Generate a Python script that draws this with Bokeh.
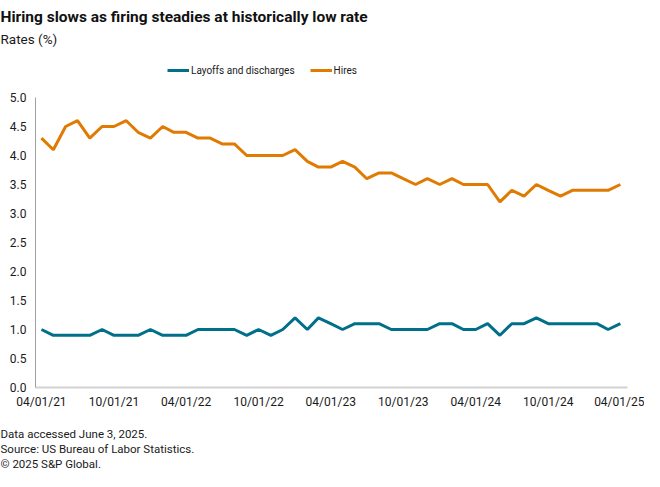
import pandas as pd
from bokeh.plotting import figure
from bokeh.layouts import column
from bokeh.models import (ColumnDataSource, Legend, LegendItem, FixedTicker, Label,
                          DatetimeTickFormatter, NumeralTickFormatter, Range1d)
from bokeh.embed import file_html
from bokeh.resources import INLINE

months = pd.date_range("2021-04-01", "2025-04-01", freq="MS")

hires = [4.3, 4.1, 4.5, 4.6, 4.3, 4.5, 4.5, 4.6, 4.4, 4.3, 4.5, 4.4, 4.4,
         4.3, 4.3, 4.2, 4.2, 4.0, 4.0, 4.0, 4.0, 4.1, 3.9, 3.8, 3.8,
         3.9, 3.8, 3.6, 3.7, 3.7, 3.6, 3.5, 3.6, 3.5, 3.6, 3.5, 3.5,
         3.5, 3.2, 3.4, 3.3, 3.5, 3.4, 3.3, 3.4, 3.4, 3.4, 3.4, 3.5]

layoffs = [1.0, 0.9, 0.9, 0.9, 0.9, 1.0, 0.9, 0.9, 0.9, 1.0, 0.9, 0.9, 0.9,
           1.0, 1.0, 1.0, 1.0, 0.9, 1.0, 0.9, 1.0, 1.2, 1.0, 1.2, 1.1,
           1.0, 1.1, 1.1, 1.1, 1.0, 1.0, 1.0, 1.0, 1.1, 1.1, 1.0, 1.0,
           1.1, 0.9, 1.1, 1.1, 1.2, 1.1, 1.1, 1.1, 1.1, 1.1, 1.0, 1.1]

series_names = ["Layoffs and discharges", "Hires"]

tick_dates = ["2021-04-01", "2021-10-01", "2022-04-01", "2022-10-01", "2023-04-01",
              "2023-10-01", "2024-04-01", "2024-10-01", "2025-04-01"]
y_ticks = [0.0, 0.5, 1.0, 1.5, 2.0, 2.5, 3.0, 3.5, 4.0, 4.5, 5.0]

title_text = "Hiring slows as firing steadies at historically low rate"
subtitle_text = "Rates (%)"
footer_lines = ["Data accessed June 3, 2025.",
                "Source: US Bureau of Labor Statistics.",
                "\u00a9 2025 S&P Global."]

HIRES_COLOR = "#E07A00"
LAYOFF_COLOR = "#00708A"
FONT = "Roboto"
TEXT_COLOR = "#1a1a1a"
W = 644
HEAD_H, MAIN_H, FOOT_H = 87, 325, 59


def blank(h):
    f = figure(width=W, height=h, output_backend="svg", toolbar_location=None,
               x_range=Range1d(0, W), y_range=Range1d(0, h),
               x_axis_location=None, y_axis_location=None,
               min_border=0, min_border_left=0, min_border_right=0,
               min_border_top=0, min_border_bottom=0, frame_align=False)
    f.title = None
    f.outline_line_color = None
    f.xgrid.visible = False
    f.ygrid.visible = False
    return f


# ---- header: title, subtitle, legend
head = blank(HEAD_H)
head.add_layout(Label(x=0, y=HEAD_H - 16, text=title_text, text_font=FONT,
                      text_font_style="bold", text_font_size="15.5px",
                      text_color="#111111", text_baseline="alphabetic"))
head.add_layout(Label(x=0, y=HEAD_H - 38, text=subtitle_text, text_font=FONT,
                      text_font_size="13.5px", text_color=TEXT_COLOR,
                      text_baseline="alphabetic"))
# legend keys (no visible data of their own)
d1 = head.line(x=[0], y=[float("nan")], line_color=LAYOFF_COLOR, line_width=3)
d2 = head.line(x=[0], y=[float("nan")], line_color=HIRES_COLOR, line_width=3)
legend = Legend(items=[LegendItem(label=series_names[0], renderers=[d1]),
                       LegendItem(label=series_names[1], renderers=[d2])],
                orientation="horizontal", location=(167, 9),
                padding=0, margin=0, spacing=15, label_standoff=2,
                glyph_width=22, glyph_height=16, label_height=16,
                border_line_color=None, background_fill_alpha=0,
                label_text_font=FONT, label_text_font_size="10px",
                label_text_color=TEXT_COLOR)
head.add_layout(legend, "center")

# ---- main chart
src = ColumnDataSource(dict(date=months, hires=hires, layoffs=layoffs))
p = figure(width=W, height=MAIN_H, output_backend="svg", toolbar_location=None,
           x_axis_type="datetime",
           x_range=Range1d(pd.Timestamp("2021-03-17"), pd.Timestamp("2025-04-19")),
           y_range=Range1d(0, 5), frame_align=False,
           min_border_left=35, min_border_right=17, min_border_top=10, min_border_bottom=25)
p.title = None
p.outline_line_color = None
p.xgrid.visible = False
p.ygrid.visible = False

p.line("date", "layoffs", source=src, line_color=LAYOFF_COLOR, line_width=3)
p.line("date", "hires", source=src, line_color=HIRES_COLOR, line_width=3)

tick_ms = [pd.Timestamp(d).value / 1e6 for d in tick_dates]
p.xaxis.ticker = FixedTicker(ticks=tick_ms)
fmt = "%m/%d/%y"
p.xaxis.formatter = DatetimeTickFormatter(days=fmt, months=fmt, years=fmt,
                                          hours=fmt, minutes=fmt, seconds=fmt)
p.yaxis.ticker = FixedTicker(ticks=y_ticks)
p.yaxis.formatter = NumeralTickFormatter(format="0.0")

for ax in (p.xaxis, p.yaxis):
    ax.major_tick_line_color = None
    ax.minor_tick_line_color = None
    ax.major_tick_out = 0
    ax.major_tick_in = 0
    ax.major_label_text_font = FONT
    ax.major_label_text_font_size = "12px"
    ax.major_label_text_color = TEXT_COLOR
p.yaxis.axis_line_color = "#a0a0a0"
p.yaxis.axis_line_width = 1
p.xaxis.axis_line_color = "#d2d2d2"
p.xaxis.axis_line_width = 2
p.yaxis.major_label_standoff = 9
p.xaxis.major_label_standoff = 7

# ---- footer
foot = blank(FOOT_H)
for i, line in enumerate(footer_lines):
    foot.add_layout(Label(x=0, y=FOOT_H - 21 - 15 * i, text=line, text_font=FONT,
                          text_font_size="11.5px", text_color=TEXT_COLOR,
                          text_baseline="alphabetic"))

layout = column(head, p, foot, spacing=0)
open("out.html", "w").write(file_html(layout, INLINE))
